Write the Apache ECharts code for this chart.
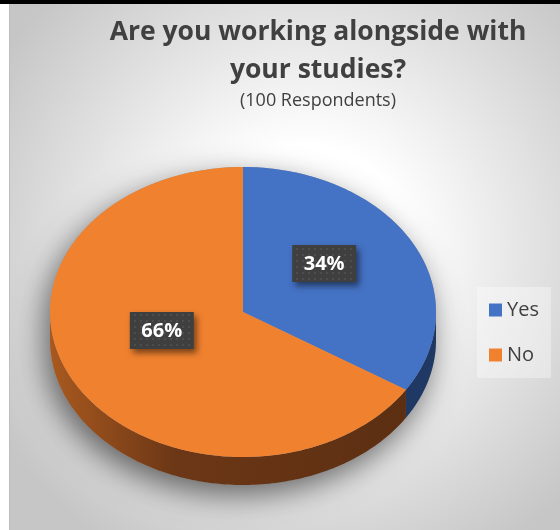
<!DOCTYPE html>
<html>
<head>
<meta charset="utf-8">
<title>Are you working alongside with your studies?</title>
<script src="https://cdn.jsdelivr.net/npm/echarts@6/dist/echarts.min.js"></script>
<style>
  html, body { margin: 0; padding: 0; background: #ffffff; }
  #chart { width: 560px; height: 530px; }
</style>
</head>
<body>
<div id="chart"></div>
<script>
// Survey answers
const categories = ['Yes', 'No'];
const values = [34, 66];
const respondents = 100;

// Pie geometry (tilted disc)
const CX = 243, CY = 312, RX = 193, RY = 145, DEPTH = 28;
const FONT = '"Open Sans", Lato, sans-serif';
const TOP_COLORS = ['#4472C4', '#F0812F'];
const SIDE_COLORS = [
  '#1F3864',
  { type: 'linear', x: 0, y: 0, x2: 1, y2: 0, colorStops: [
    { offset: 0, color: '#A9591F' },
    { offset: 0.35, color: '#6C3716' },
    { offset: 1, color: '#5C2F12' }
  ] }
];

const total = values.reduce((a, b) => a + b, 0);

// point on the rim; angle measured clockwise from 12 o'clock
function rim(t, dy) {
  return [CX + RX * Math.sin(t), CY - RY * Math.cos(t) + (dy || 0)];
}
function arc(a, b, dy) {
  const pts = [];
  const n = Math.max(2, Math.ceil(Math.abs(b - a) / (Math.PI / 180)));
  for (let k = 0; k <= n; k++) pts.push(rim(a + (b - a) * k / n, dy));
  return pts;
}

// dotted fill for the value badges
const dots = document.createElement('canvas');
dots.width = 6; dots.height = 6;
(function () {
  const g = dots.getContext('2d');
  g.fillStyle = '#3F3F3F'; g.fillRect(0, 0, 6, 6);
  g.fillStyle = '#4D4D4D'; g.fillRect(2, 2, 2, 2);
})();

function renderSlice(params, api) {
  const i = params.seriesIndex;
  const v = api.value(0);
  let before = 0;
  for (let k = 0; k < i; k++) before += values[k];
  const start = before / total * Math.PI * 2;
  const end = (before + v) / total * Math.PI * 2;
  const children = [];

  if (i === 0) {
    // soft drop shadow under the whole disc
    const silhouette = arc(-Math.PI / 2, Math.PI / 2, 0).concat(arc(Math.PI / 2, Math.PI * 1.5, DEPTH));
    children.push({
      type: 'polygon', z2: -10,
      shape: { points: silhouette },
      style: { fill: '#9a9a9a', shadowBlur: 30, shadowColor: 'rgba(0,0,0,0.55)', shadowOffsetX: -5, shadowOffsetY: 10 }
    });
  }

  // visible part of the rim wall (front half)
  const a = Math.max(start, Math.PI / 2);
  const b = Math.min(end, Math.PI * 1.5);
  if (b > a) {
    const wall = arc(a, b, 0).concat(arc(b, a, DEPTH));
    children.push({
      type: 'polygon', z2: 1,
      shape: { points: wall },
      style: { fill: SIDE_COLORS[i] }
    });
  }

  // top face
  children.push({
    type: 'polygon', z2: 2,
    shape: { points: [[CX, CY]].concat(arc(start, end, 0)) },
    style: { fill: TOP_COLORS[i] }
  });

  // value badge
  const mid = (start + end) / 2;
  const lx = CX + 0.48 * RX * Math.sin(mid);
  const ly = CY - 15 - 0.48 * RY * Math.cos(mid);
  const w = 64, h = 37;
  children.push({
    type: 'rect', z2: 20,
    shape: { x: lx - w / 2, y: ly - h / 2, width: w, height: h },
    style: { fill: { image: dots, repeat: 'repeat' }, shadowBlur: 6, shadowColor: 'rgba(0,0,0,0.5)', shadowOffsetX: 3, shadowOffsetY: 4 }
  });
  children.push({
    type: 'text', z2: 21,
    x: lx, y: ly + 1,
    style: {
      text: Math.round(v / total * 100) + '%',
      fill: '#ffffff', font: 'bold 20px ' + FONT,
      align: 'center', verticalAlign: 'middle'
    }
  });

  return { type: 'group', children: children };
}

const chart = echarts.init(document.getElementById('chart'), null, { renderer: 'canvas' });

chart.setOption({
  animation: false,
  graphic: [
    { type: 'rect', z: -100, shape: { x: 9, y: 4, width: 551, height: 526 },
      style: { fill: { type: 'radial', x: 0.54, y: 0.46, r: 0.68, colorStops: [
        { offset: 0, color: '#ffffff' },
        { offset: 0.28, color: '#ffffff' },
        { offset: 1, color: '#c6c6c6' }
      ] } } },
    { type: 'rect', z: -99, shape: { x: 9, y: 4, width: 1, height: 526 }, style: { fill: '#bdbdbd' } },
    { type: 'rect', z: -99, shape: { x: 0, y: 0, width: 560, height: 4 }, style: { fill: '#000000' } }
  ],
  title: {
    text: 'Are you working alongside with\nyour studies?',
    subtext: '(' + respondents + ' Respondents)',
    left: 313, top: 8, textAlign: 'center', itemGap: 3,
    textStyle: { fontFamily: FONT, fontSize: 26.5, fontWeight: 'bold', color: '#404040', lineHeight: 38 },
    subtextStyle: { fontFamily: FONT, fontSize: 18, color: '#404040' }
  },
  legend: {
    data: categories,
    orient: 'vertical', left: 477, top: 287,
    padding: [13, 12, 13, 12],
    icon: 'rect', itemWidth: 13, itemHeight: 13, itemGap: 25,
    selectedMode: false,
    backgroundColor: 'rgba(255,255,255,0.35)',
    textStyle: { fontFamily: FONT, fontSize: 20, color: '#404040' }
  },
  series: categories.map((name, i) => ({
    type: 'custom',
    name: name,
    coordinateSystem: 'none',
    itemStyle: { color: TOP_COLORS[i] },
    data: [[values[i]]],
    renderItem: renderSlice
  }))
});
</script>
</body>
</html>
